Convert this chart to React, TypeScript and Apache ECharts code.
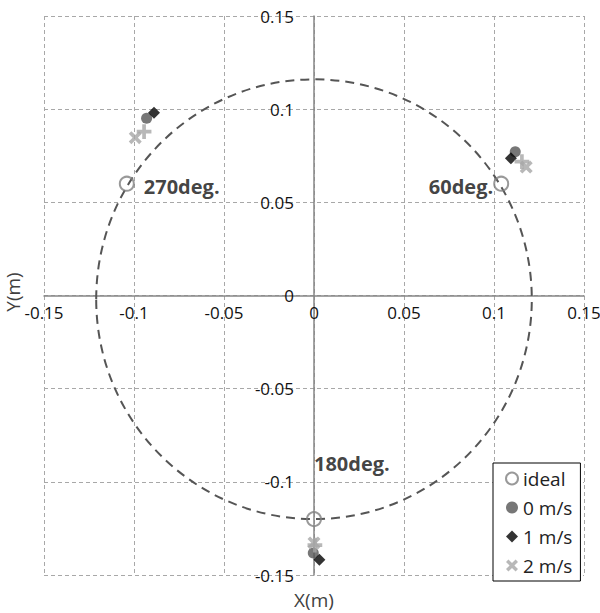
import React, { useEffect, useRef } from "react";
import * as echarts from "echarts";

// ---- data ----
const xTicks = { min: -0.15, max: 0.15, step: 0.05 };
const yTicks = { min: -0.15, max: 0.15, step: 0.05 };
const legendNames = ["ideal", "0 m/s", "1 m/s", "2 m/s"];
const idealPts = [
  [-0.104, 0.06],
  [0.104, 0.06],
  [0.0, -0.12],
];
const idealLabels = ["270deg.", "60deg.", "180deg."];
const speed0 = [
  [-0.093, 0.0951],
  [0.1118, 0.0772],
  [-0.0004, -0.1382],
];
const speed1 = [
  [-0.0889, 0.0981],
  [0.1094, 0.0736],
  [0.003, -0.1418],
];
const speed2Cross = [
  [-0.0993, 0.0847],
  [0.1179, 0.0689],
  [0.0, -0.1328],
];
const speed2Plus = [
  [-0.0944, 0.0879],
  [0.1155, 0.0718],
  [0.0005, -0.134],
];
// reference circle: center x, center y, radius x, radius y
const refCircle = [[0.0, -0.002, 0.121, 0.118]];

const FONT = "'Open Sans', 'Noto Sans', sans-serif";
const CROSS =
  "path://M2,0 L5,3 L8,0 L10,2 L7,5 L10,8 L8,10 L5,7 L2,10 L0,8 L3,5 L0,2 Z";

const W = 600;
const H = 613;
const GRID = { left: 44, right: 16, top: 16, bottom: 38 };

export default function App() {
  const ref = useRef<HTMLDivElement>(null);
  useEffect(() => {
    if (!ref.current) return;
    const chart = echarts.init(ref.current, null, { renderer: "svg" });
    const halfW = (W - GRID.left - GRID.right) / 2;
    const halfH = (H - GRID.top - GRID.bottom) / 2;
    const labelPos: any[] = [
      { position: "right", distance: 9, offset: [0, 3] },
      { position: "left", distance: 0, offset: [0, 3] },
      { position: [8, -58] },
    ];
    const axisCommon = {
      type: "value",
      axisTick: { show: false },
      splitLine: {
        show: true,
        lineStyle: { color: "#a8a8a8", type: [4, 3], width: 1 },
      },
    };
    chart.setOption({
      animation: false,
      backgroundColor: "#fff",
      grid: { ...GRID, containLabel: false, outerBoundsMode: "none" },
      xAxis: {
        ...axisCommon,
        min: xTicks.min,
        max: xTicks.max,
        interval: xTicks.step,
        offset: -halfH,
        axisLine: { onZero: false, lineStyle: { color: "#868686", width: 1.5 } },
        axisLabel: {
          margin: 8,
          fontFamily: FONT,
          fontSize: 17,
          color: "#111",
        },
      },
      yAxis: {
        ...axisCommon,
        min: yTicks.min,
        max: yTicks.max,
        interval: yTicks.step,
        offset: -halfW,
        axisLine: { onZero: false, lineStyle: { color: "#868686", width: 1.5 } },
        axisLabel: {
          margin: 20,
          fontFamily: FONT,
          fontSize: 17,
          color: "#111",
        },
      },
      legend: {
        data: legendNames,
        orient: "vertical",
        left: 493,
        top: 463,
        backgroundColor: "#fff",
        borderColor: "#000",
        borderWidth: 1,
        borderRadius: 0,
        padding: [6, 8, 6, 12],
        itemWidth: 12,
        itemHeight: 12,
        itemGap: 10,
        textStyle: { fontFamily: FONT, fontSize: 19, color: "#222" },
      },
      graphic: [
        {
          type: "text",
          x: 314,
          y: 600,
          style: {
            text: "X(m)",
            font: `19px ${FONT}`,
            fill: "#404040",
            textAlign: "center",
            textVerticalAlign: "middle",
          },
        },
        {
          type: "text",
          x: 13,
          y: 292,
          rotation: Math.PI / 2,
          style: {
            text: "Y(m)",
            font: `19px ${FONT}`,
            fill: "#404040",
            textAlign: "center",
            textVerticalAlign: "middle",
          },
        },
      ],
      series: [
        {
          type: "custom",
          name: "circle",
          silent: true,
          clip: false,
          z: 1,
          data: refCircle,
          renderItem: (params: any, api: any) => {
            const c = api.coord([api.value(0), api.value(1)]);
            const s = api.size([api.value(2), api.value(3)]);
            return {
              type: "ellipse",
              shape: { cx: c[0], cy: c[1], rx: s[0], ry: s[1] },
              style: {
                fill: "none",
                stroke: "#555",
                lineWidth: 2,
                lineDash: [9, 6],
              },
            };
          },
        },
        {
          type: "scatter",
          name: legendNames[0],
          z: 3,
          symbol: "circle",
          symbolSize: 14,
          itemStyle: {
            color: "rgba(255,255,255,0)",
            borderColor: "#808080",
            borderWidth: 2,
          },
          data: idealPts.map((p, i) => ({
            value: p,
            label: {
              show: true,
              formatter: idealLabels[i],
              fontFamily: FONT,
              fontWeight: "bold",
              fontSize: 20,
              color: "#111",
              ...labelPos[i],
            },
          })),
        },
        {
          type: "scatter",
          name: legendNames[1],
          z: 4,
          symbol: "circle",
          symbolSize: 11,
          itemStyle: { color: "#555" },
          data: speed0,
        },
        {
          type: "scatter",
          name: legendNames[2],
          z: 5,
          symbol: "diamond",
          symbolSize: 12,
          itemStyle: { color: "#000" },
          data: speed1,
        },
        {
          type: "scatter",
          name: legendNames[3],
          z: 6,
          symbol: CROSS,
          symbolSize: 13,
          itemStyle: { color: "#a6a6a6" },
          data: speed2Cross,
        },
        {
          type: "scatter",
          name: legendNames[3],
          z: 6,
          symbol: CROSS,
          symbolRotate: 45,
          symbolSize: 13,
          itemStyle: { color: "#a6a6a6" },
          data: speed2Plus,
        },
      ],
    });
    return () => chart.dispose();
  }, []);
  return (
    <div
      ref={ref}
      style={{ position: "fixed", left: 0, top: 0, width: W, height: H }}
    />
  );
}
